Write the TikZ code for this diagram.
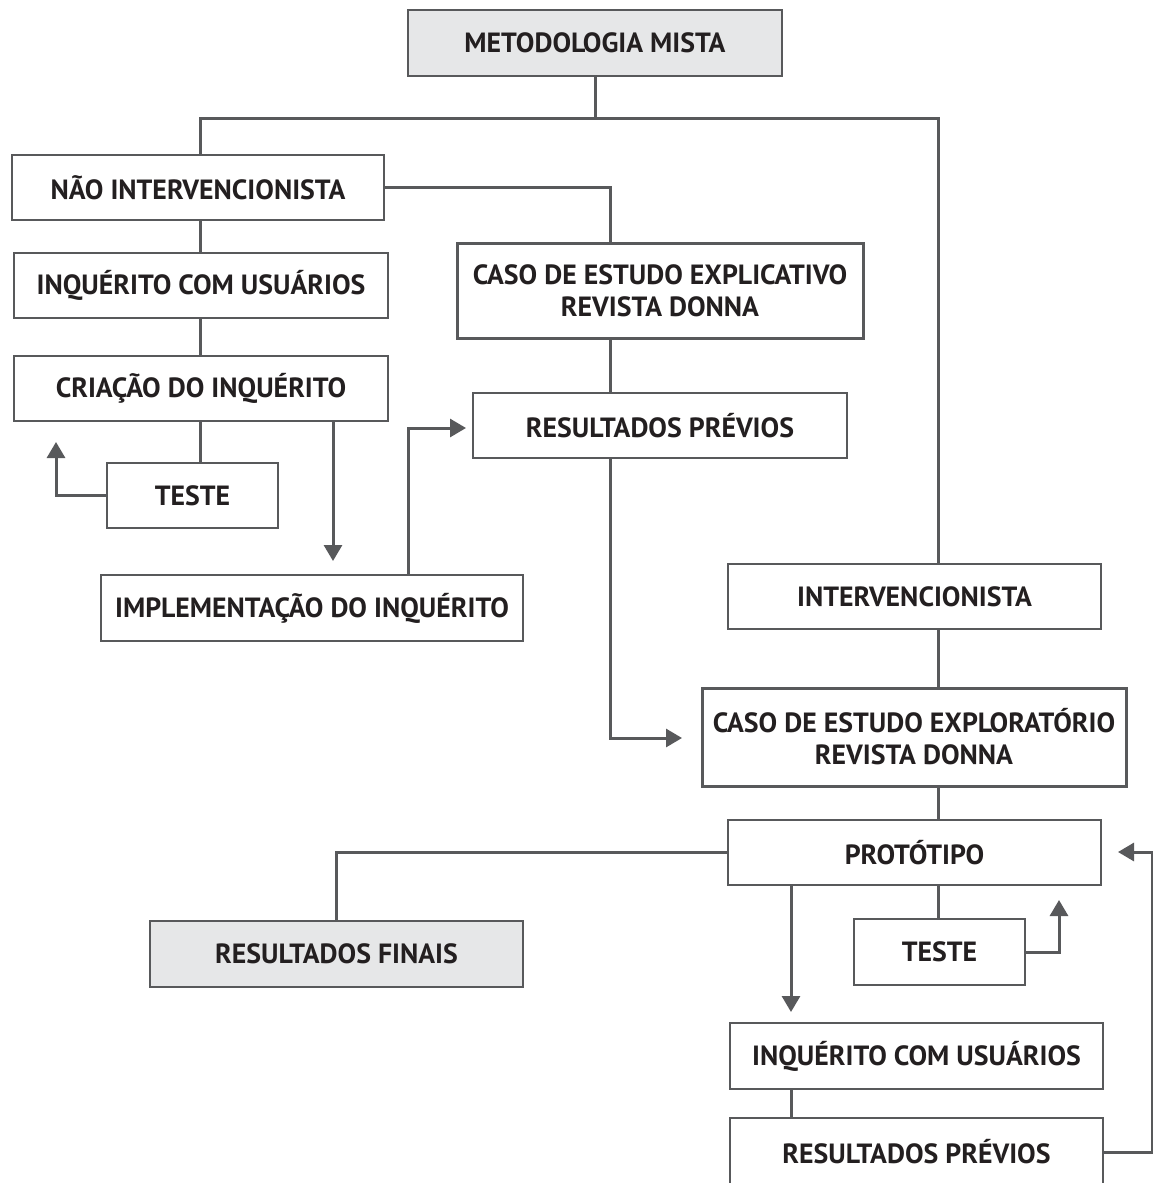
\documentclass[tikz,border=0pt]{standalone}
\usepackage{fontspec}
\setmainfont{PT Sans}
\usetikzlibrary{arrows.meta}
\definecolor{ln}{HTML}{58595B}
\definecolor{tx}{HTML}{231F20}
\definecolor{gr}{HTML}{E6E7E8}
\begin{document}
\begin{tikzpicture}[x=1pt,y=-1pt,
  lbl/.style={font=\fontsize{27.8}{32}\selectfont\bfseries,text=tx,align=center},
  box/.style={draw=ln,line width=2pt,rectangle,inner sep=0pt,lbl},
  thick box/.style={box,line width=3pt},
  conn/.style={draw=ln,line width=3pt},
  arr/.style={conn,-{Triangle[width=18pt,length=16pt]}}]
\clip (0,0) rectangle (1153,1183);
\fill[white] (0,0) rectangle (1153,1183);
% boxes
\node[box,fill=gr,minimum width=374pt,minimum height=66pt] (meto) at (595,43) {METODOLOGIA MISTA};
\node[box,minimum width=372pt,minimum height=65pt] (nao) at (198,187.5) {NÃO INTERVENCIONISTA};
\node[thick box,minimum width=406pt,minimum height=95pt] (expl) at (660,290.5) {CASO DE ESTUDO EXPLICATIVO\\REVISTA DONNA};
\node[box,minimum width=374pt,minimum height=65pt] (inq1) at (201,285.5) {INQUÉRITO COM USUÁRIOS};
\node[box,minimum width=374pt,minimum height=65pt] (cri) at (201,388.5) {CRIAÇÃO DO INQUÉRITO};
\node[box,minimum width=171pt,minimum height=65pt] (tes1) at (192.5,495.5) {TESTE};
\node[box,minimum width=422pt,minimum height=66pt] (impl) at (312,608) {IMPLEMENTAÇÃO DO INQUÉRITO};
\node[box,minimum width=374pt,minimum height=65pt] (res1) at (660,425.5) {RESULTADOS PRÉVIOS};
\node[box,minimum width=373pt,minimum height=65pt] (inter) at (914.5,596.5) {INTERVENCIONISTA};
\node[thick box,minimum width=424pt,minimum height=98pt] (explo) at (914,737) {CASO DE ESTUDO EXPLORATÓRIO\\REVISTA DONNA};
\node[box,minimum width=373pt,minimum height=65pt] (prot) at (914.5,852.5) {PROTÓTIPO};
\node[box,fill=gr,minimum width=373pt,minimum height=66pt] (fin) at (336.5,954) {RESULTADOS FINAIS};
\node[box,minimum width=171pt,minimum height=66pt] (tes2) at (939.5,952) {TESTE};
\node[box,minimum width=373pt,minimum height=66pt] (inq2) at (916.5,1056) {INQUÉRITO COM USUÁRIOS};
\node[box,minimum width=373pt,minimum height=90pt] (res2) at (916.5,1163) {};
\node[lbl] (res2t) at (916.5,1152) {RESULTADOS PRÉVIOS};
% coordinates
\coordinate (bus) at (595,118);
\coordinate (c1) at (610,187);
\coordinate (a1) at (56,442);
\coordinate (a2) at (333,561);
\coordinate (a3) at (408,428);
\coordinate (a4) at (466,428);
\coordinate (a5) at (610,738);
\coordinate (a6) at (682,738);
\coordinate (p1) at (336,852);
\coordinate (a7) at (1059,900);
\coordinate (a8) at (791,1012);
\coordinate (a9) at (1152,852);
\coordinate (a10) at (1118,852);
% connectors
\draw[conn] (meto.south) -- (bus);
\draw[conn] (nao.north -| 200,0) |- (bus) -| (inter.north -| 938,0);
\draw[conn] (nao.east |- c1) -| (expl.north -| c1);
\draw[conn] (nao.south -| 200,0) -- (inq1.north -| 200,0);
\draw[conn] (inq1.south -| 200,0) -- (cri.north -| 200,0);
\draw[conn] (cri.south -| 200,0) -- (tes1.north -| 200,0);
\draw[arr] (tes1.west) -| (a1);
\draw[arr] (cri.south -| a2) -- (a2);
\draw[arr] (impl.north -| a3) -- (a3) -- (a4);
\draw[conn] (expl.south -| c1) -- (res1.north -| c1);
\draw[arr] (res1.south -| a5) -- (a5) -- (a6);
\draw[conn] (inter.south -| 938,0) -- (explo.north -| 938,0);
\draw[conn] (explo.south -| 938,0) -- (prot.north -| 938,0);
\draw[conn] (prot.west |- p1) -| (fin.north -| p1);
\draw[conn] (prot.south -| 938,0) -- (tes2.north -| 938,0);
\draw[arr] (tes2.east) -| (a7);
\draw[arr] (prot.south -| a8) -- (a8);
\draw[conn] (inq2.south -| a8) -- (res2.north -| a8);
\draw[arr] (res2t.east -| res2.east) -| (a9) -- (a10);
\end{tikzpicture}
\end{document}
